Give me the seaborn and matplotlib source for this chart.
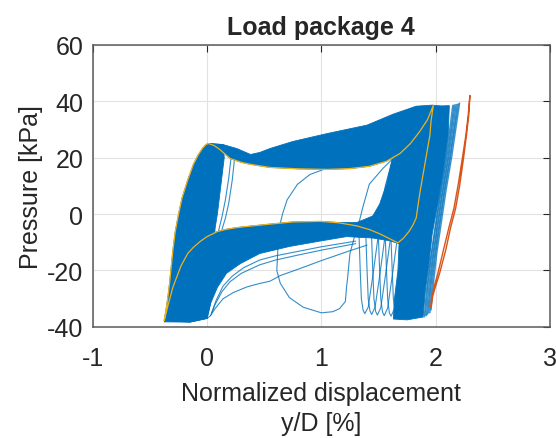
import numpy as np
import pandas as pd
import matplotlib
matplotlib.use('Agg')
import matplotlib.pyplot as plt
import seaborn as sns

# Load package 4 - pressure vs normalized displacement

# dense bands of the many cycles (outlines)
left_band_x = [-0.375, -0.36, -0.345, -0.33, -0.315, -0.30, -0.28, -0.25, -0.22, -0.17, -0.12, -0.08, -0.04, -0.01, 0.01,
               0.14, 0.15, 0.12, 0.09, 0.07, 0.06, 0.05, 0.03, 0.0, -0.15, -0.375]
left_band_y = [-37.7, -34, -30, -25, -19, -13, -6.5, 0, 5.6, 12, 17.6, 20.8, 23.3, 24.6, 25,
               24.6, 20, 10, 0, -5, -12, -20, -31.7, -37, -38.3, -38.2]

top_band_x = [0.01, 0.14, 0.26, 0.38, 0.46, 0.55, 0.75, 1.05, 1.4, 1.63, 1.83, 1.98,
              1.93, 1.86, 1.78, 1.69, 1.57, 1.42, 1.25, 1.05, 0.8, 0.55, 0.38, 0.3, 0.2, 0.11, 0.06]
top_band_y = [25, 24.6, 23.2, 21.1, 21.8, 23.2, 25.7, 28.5, 31.5, 35.4, 38.2, 38.6,
              33.5, 29.2, 25, 21.5, 18.7, 16.9, 16.1, 15.8, 16, 16.5, 17.6, 18.3, 19.7, 22.9, 24.3]

bottom_band_x = [-0.375, -0.34, -0.3, -0.23, -0.17, -0.12, -0.06, 0.0, 0.09, 0.17, 0.26, 0.35,
                 0.52, 0.75, 0.99, 1.15, 1.31, 1.45, 1.62, 1.7, 1.68, 1.6, 1.45, 1.22, 1.0,
                 0.72, 0.46, 0.29, 0.17, 0.09, 0.03, 0.0, -0.15]
bottom_band_y = [-37.7, -32, -26, -18.5, -14, -11.8, -9.7, -8, -6.2, -5.4, -4.8, -4.4,
                 -3.7, -2.8, -2.6, -3.0, -3.0, -0.7, -0.3, -5, -10.5, -9.5, -8.5, -8, -9.5,
                 -11.5, -14, -17.6, -21, -26, -31.7, -37, -38.3]

right_band_x = [1.62, 1.69, 1.78, 1.86, 1.93, 1.98, 2.05, 2.12, 2.11, 2.07, 2.02, 1.97,
                1.94, 1.91, 1.89, 1.75, 1.63, 1.64, 1.67, 1.68, 1.62, 1.45, 1.51, 1.57]
right_band_y = [19.4, 21.5, 25, 29.2, 33.5, 38.5, 38.3, 38.4, 28, 16, 4, -7,
                -18, -27, -36.5, -37.5, -37.2, -30, -20, -10.5, -3, -0.7, 3.5, 10.6]

# single blue cycles that stand out of the bands
loop_a_x = [1.02, 0.9, 0.79, 0.7, 0.66, 0.63, 0.62, 0.61, 0.64, 0.72, 0.84, 1.0, 1.1, 1.16,
            1.21, 1.22, 1.23, 1.25, 1.29, 1.33, 1.36, 1.42, 1.54, 1.62]
loop_a_y = [15.8, 14, 10.5, 5, 0, -5, -12, -20, -24.5, -29.6, -33, -35, -34.6, -33.5,
            -31, -26, -22.5, -14, -8, -3, 2, 10.6, 16.2, 19.4]

u1_x = [1.33, 1.34, 1.35, 1.365, 1.38, 1.41, 1.45, 1.49, 1.52, 1.56, 1.62]
u1_y = [-8, -20, -30, -34, -35.3, -33, -22, -10, 0, 10, 19]
u2_x = [1.39, 1.40, 1.41, 1.425, 1.44, 1.47, 1.51, 1.55, 1.58, 1.62, 1.67]
u2_y = [-8.5, -20, -30, -34.3, -35.6, -33, -22, -10, 0, 9, 17]
u3_x = [1.44, 1.45, 1.46, 1.475, 1.49, 1.52, 1.56, 1.60, 1.63, 1.66]
u3_y = [-8.5, -20, -30, -34.5, -35.8, -33.2, -22, -10, 0, 8]
u4_x = [1.50, 1.51, 1.52, 1.535, 1.55, 1.58, 1.62, 1.66]
u4_y = [-9, -20, -30, -34.7, -36.0, -33.3, -22, -10]
u5_x = [1.56, 1.57, 1.58, 1.595, 1.61, 1.64, 1.68, 1.72]
u5_y = [-9, -20, -30, -35, -36.2, -33.5, -22, -10]
u6_x = [1.61, 1.62, 1.63, 1.645, 1.66, 1.69, 1.73, 1.77]
u6_y = [-9.5, -20, -30, -35.2, -36.4, -33.5, -22, -10]

low1_x = [0.0, 0.03, 0.07, 0.14, 0.23, 0.35, 0.46, 0.55, 0.64, 0.8, 1.0, 1.25, 1.4]
low1_y = [-37, -36, -33.5, -30, -27.8, -25.8, -24.6, -23.8, -21.8, -19.5, -16.5, -13, -11]
low2_x = [0.03, 0.07, 0.13, 0.2, 0.3, 0.46, 0.6, 0.8, 1.0, 1.3]
low2_y = [-36, -32, -27.5, -24, -21, -18, -16.3, -14.5, -12.8, -10.5]
low3_x = [0.04, 0.08, 0.14, 0.22, 0.32, 0.46, 0.6, 0.8, 1.0, 1.3]
low3_y = [-35, -30.5, -25.5, -22, -19, -16.3, -14.8, -13.2, -11.6, -9.6]

inner1_x = [0.21, 0.19, 0.16, 0.13, 0.10]
inner1_y = [20.2, 13, 5, -1, -6]
inner2_x = [0.24, 0.22, 0.19, 0.16, 0.13]
inner2_y = [19.6, 12, 4, -1.5, -5.5]

fringe1_x = [1.96, 1.98, 2.01, 2.05, 2.09, 2.14, 2.18, 2.21]
fringe1_y = [-34, -25, -14, -3, 8, 20, 31, 39.3]
fringe2_x = [1.95, 1.97, 2.0, 2.04, 2.08, 2.13, 2.17, 2.2]
fringe2_y = [-35, -25, -14, -3, 8, 20, 31, 39]
fringe3_x = [1.94, 1.96, 1.99, 2.03, 2.07, 2.12, 2.16, 2.19]
fringe3_y = [-35, -25, -15, -4, 7, 19, 30, 38.9]
fringe4_x = [1.93, 1.95, 1.98, 2.02, 2.06, 2.11, 2.15, 2.18]
fringe4_y = [-35.5, -26, -15, -4, 7, 19, 30, 38.8]
fringe5_x = [1.92, 1.94, 1.97, 2.01, 2.05, 2.10, 2.14, 2.17]
fringe5_y = [-36, -26, -16, -5, 6, 18, 30, 38.7]
fringe6_x = [1.91, 1.93, 1.96, 2.0, 2.04, 2.09, 2.13, 2.16]
fringe6_y = [-36, -26, -16, -5, 6, 18, 29, 38.6]
fringe7_x = [1.90, 1.92, 1.95, 1.99, 2.03, 2.08, 2.12, 2.15]
fringe7_y = [-36.5, -27, -17, -6, 5, 17, 29, 38.5]

# highlighted cycle (yellow)
yellow_x = [-0.375, -0.36, -0.345, -0.33, -0.315, -0.30, -0.28, -0.25, -0.22, -0.17, -0.12, -0.08, -0.04, -0.01, 0.01,
            0.06, 0.11, 0.2, 0.3, 0.38, 0.55, 0.8, 1.05, 1.25, 1.42, 1.57, 1.69, 1.78, 1.86, 1.93, 1.98,
            1.96, 1.95, 1.92, 1.89, 1.86, 1.83, 1.8, 1.77, 1.72, 1.67,
            1.6, 1.51, 1.42, 1.31, 1.15, 0.99, 0.75, 0.52, 0.35, 0.26, 0.17, 0.09, 0.0,
            -0.06, -0.12, -0.17, -0.23, -0.3, -0.34, -0.375]
yellow_y = [-37.7, -34, -30, -25, -19, -13, -6.5, 0, 5.6, 12, 17.6, 20.8, 23.3, 24.6, 25,
            24.3, 22.9, 19.7, 18.3, 17.6, 16.5, 16, 15.8, 16.1, 16.9, 18.7, 21.5, 25, 29.2, 33.5, 38.5,
            33, 28, 21, 14, 7, -1.4, -4, -6, -8.5, -10.2,
            -8.8, -7, -5.5, -4.2, -3.1, -2.6, -2.8, -3.7, -4.4, -4.8, -5.4, -6.2, -8,
            -9.7, -11.8, -14, -18.5, -26, -32, -37.7]

# last cycle (orange)
orange_x = [1.96, 1.975, 2.0, 2.035, 2.09, 2.13, 2.175, 2.21, 2.245, 2.27, 2.29, 2.3,
            2.285, 2.265, 2.235, 2.2, 2.16, 2.115, 2.07, 2.02, 1.985, 1.965, 1.955]
orange_y = [-33, -29, -25.5, -21, -12.5, -5, 2, 10, 20, 28, 35, 42,
            35, 28, 20, 11, 2, -5, -12.5, -21, -26, -30, -33]

blue = '#0072BD'
sns.set_style('white')
plt.rcParams['font.family'] = ['Liberation Sans', 'DejaVu Sans']
plt.rcParams['axes.unicode_minus'] = False

fig, ax = plt.subplots(figsize=(5.56, 4.39), dpi=100)
fig.subplots_adjust(left=0.167, right=0.989, top=0.896, bottom=0.253)

for bx, by in [(left_band_x, left_band_y), (top_band_x, top_band_y),
               (bottom_band_x, bottom_band_y), (right_band_x, right_band_y)]:
    ax.fill(bx, by, color=blue, lw=0.6, ec=blue, zorder=2)

singles = [(loop_a_x, loop_a_y), (u1_x, u1_y), (u2_x, u2_y), (u3_x, u3_y), (u4_x, u4_y),
           (u5_x, u5_y), (u6_x, u6_y), (low1_x, low1_y), (low2_x, low2_y), (low3_x, low3_y),
           (inner1_x, inner1_y), (inner2_x, inner2_y)]
for sx, sy in singles:
    sns.lineplot(x=sx, y=sy, sort=False, estimator=None, color=blue, lw=0.8, alpha=0.8, ax=ax, zorder=3)

fringes = [(fringe1_x, fringe1_y), (fringe2_x, fringe2_y), (fringe3_x, fringe3_y),
           (fringe4_x, fringe4_y), (fringe5_x, fringe5_y), (fringe6_x, fringe6_y),
           (fringe7_x, fringe7_y)]
for fx, fy in fringes:
    sns.lineplot(x=fx, y=fy, sort=False, estimator=None, color=blue, lw=1.0, alpha=0.75, ax=ax, zorder=3)

sns.lineplot(x=yellow_x, y=yellow_y, sort=False, estimator=None, color='#EDB120', lw=0.9, ax=ax, zorder=4)
sns.lineplot(x=orange_x, y=orange_y, sort=False, estimator=None, color='#D95319', lw=1.0, ax=ax, zorder=4)

ax.set_xlim(-1, 3)
ax.set_ylim(-40, 60)
ax.set_xticks([-1, 0, 1, 2, 3])
ax.set_yticks([-40, -20, 0, 20, 40, 60])
ax.grid(True, color='#e2e2e2', lw=0.8)
ax.set_axisbelow(True)
for sp in ax.spines.values():
    sp.set_color('#5a5a5a')
    sp.set_linewidth(1.1)
ax.tick_params(direction='in', top=True, right=True, length=5, width=0.8,
               color='#262626', labelcolor='#262626', labelsize=18)
ax.tick_params(axis='x', pad=14)
ax.tick_params(axis='y', pad=7)

ax.set_title('Load package 4', fontsize=18, fontweight='bold', pad=8)
ax.set_xlabel('Normalized displacement\ny/D [%]', fontsize=18, color='#262626', labelpad=8, linespacing=1.28)
ax.set_ylabel('Pressure [kPa]', fontsize=18, color='#262626', labelpad=3)

fig.savefig('out.png', dpi=100)
